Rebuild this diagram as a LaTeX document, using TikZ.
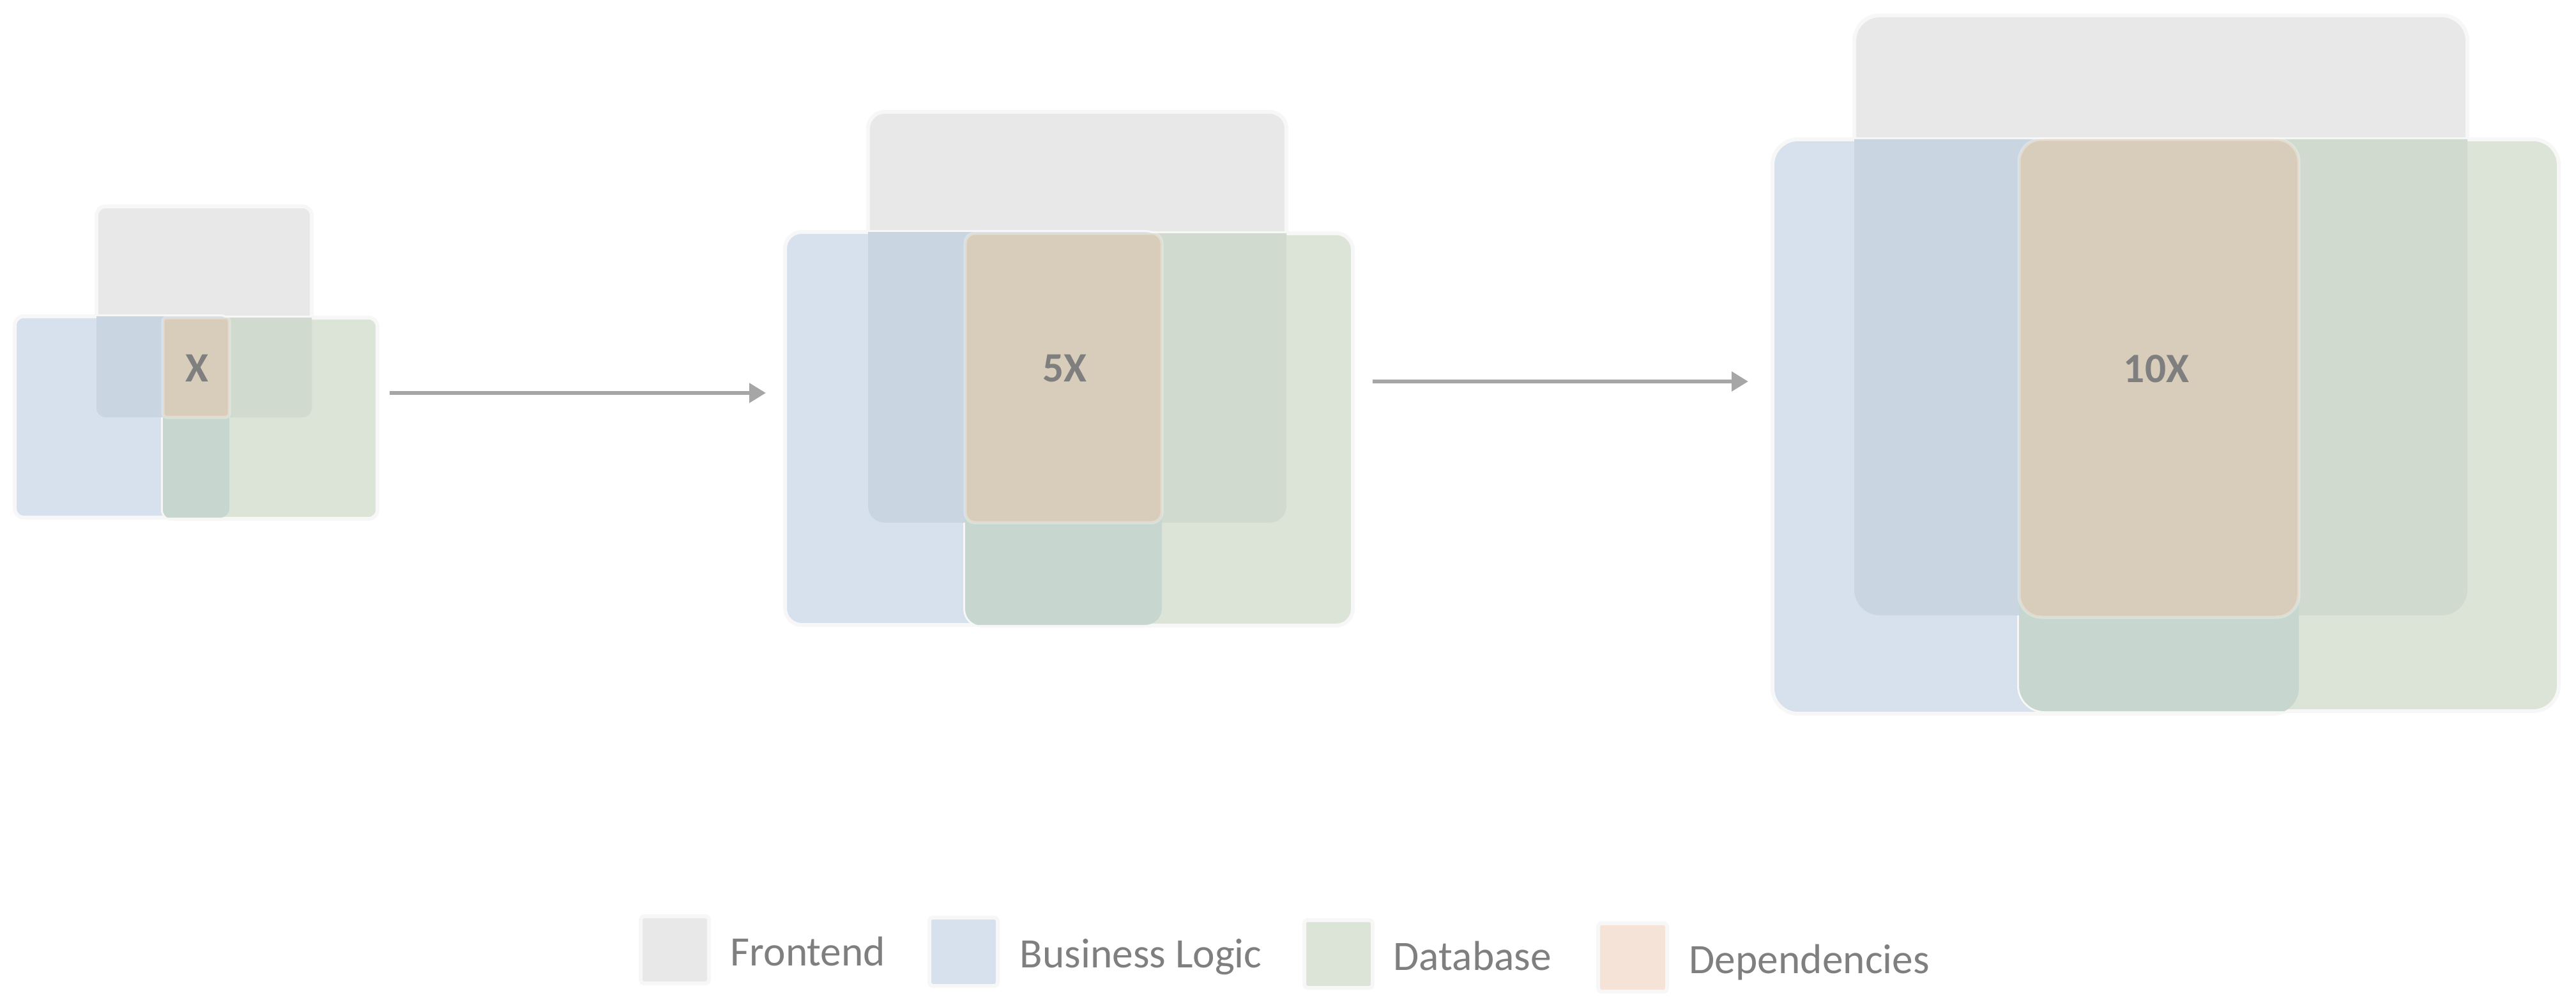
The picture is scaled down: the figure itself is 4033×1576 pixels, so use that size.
\documentclass[tikz,border=0pt]{standalone}
\usepackage{fontspec}
\setmainfont{Carlito}
\usetikzlibrary{arrows.meta,positioning,fit}
\definecolor{feGray}{HTML}{E8E8E8}
\definecolor{blBlue}{HTML}{D6E1ED}
\definecolor{dbGreen}{HTML}{DCE4D8}
\definecolor{depPeach}{HTML}{F5E3D7}
\definecolor{blFe}{HTML}{C9D6E2}
\definecolor{dbFe}{HTML}{D1DACF}
\definecolor{blDb}{HTML}{C7D6CF}
\definecolor{depMix}{HTML}{D8CCBA}
\definecolor{txtGray}{HTML}{7F7F7F}
\definecolor{arrGray}{HTML}{A6A6A6}
\tikzset{
	tier/.style={inner sep=0, outer sep=0, draw=black!3, line width=0.06cm},
	fe/.style={tier, fill=feGray},
	bl/.style={tier, fill=blBlue},
	db/.style={tier, fill=dbGreen},
	dep/.style={inner sep=0, outer sep=0, fill=depMix, draw=white, draw opacity=0.3, line width=0.05cm},
	tag/.style={text=txtGray, font=\bfseries\fontsize{18.6}{22}\selectfont},
	legbox/.style={tier, rounded corners=0.05cm},
	legtext/.style={text=txtGray, inner sep=0, font=\fontsize{18.6}{22}\selectfont},
	flow/.style={draw=arrGray, line width=0.06cm, -{Triangle[length=0.26cm,width=0.3cm]}}
}

\begin{document}
\begin{tikzpicture}[x=0.01cm, y=-0.01cm]
	\useasboundingbox (0,0) rectangle (4033,1576);
	
	% X
	\node[fe, rounded corners=0.14cm, fit={(151,323) (488,653)}] (fe1) {};
	\node[bl, rounded corners=0.14cm, fit={(23,495) (359,810)}] (bl1) {};
	\node[db, rounded corners=0.14cm, fit={(255,497) (591,812)}] (db1) {};
	\begin{scope}
		\clip[rounded corners=0.14cm] (fe1.south west) rectangle (fe1.north east);
		\fill[blFe, rounded corners=0.14cm] (bl1.south west) rectangle (bl1.north east);
		\fill[dbFe, rounded corners=0.14cm] (db1.south west) rectangle (db1.north east);
	\end{scope}
	\begin{scope}
		\clip[rounded corners=0.14cm] (bl1.south west) rectangle (bl1.north east);
		\fill[blDb, rounded corners=0.14cm] (db1.south west) rectangle (db1.north east);
	\end{scope}
	\node[dep, rounded corners=0.06cm, fit={(255,497) (359,653)}] (dep1) {};
	\node[tag] (x1) at (309,576) {X};
	
	% 5X
	\node[fe, rounded corners=0.26cm, fit={(1359,175) (2014,818)}] (fe2) {};
	\node[bl, rounded corners=0.26cm, fit={(1229,363) (1819,978)}] (bl2) {};
	\node[db, rounded corners=0.26cm, fit={(1511,365) (2118,979)}] (db2) {};
	\begin{scope}
		\clip[rounded corners=0.26cm] (fe2.south west) rectangle (fe2.north east);
		\fill[blFe, rounded corners=0.26cm] (bl2.south west) rectangle (bl2.north east);
		\fill[dbFe, rounded corners=0.26cm] (db2.south west) rectangle (db2.north east);
	\end{scope}
	\begin{scope}
		\clip[rounded corners=0.26cm] (bl2.south west) rectangle (bl2.north east);
		\fill[blDb, rounded corners=0.26cm] (db2.south west) rectangle (db2.north east);
	\end{scope}
	\node[dep, rounded corners=0.16cm, fit={(1511,365) (1819,818)}] (dep2) {};
	\node[tag] (x5) at (1667,577) {5X};
	
	% 10X
	\node[fe, rounded corners=0.4cm, fit={(2903,24) (3863,963)}] (fe3) {};
	\node[bl, rounded corners=0.4cm, fit={(2775,218) (3599,1117)}] (bl3) {};
	\node[db, rounded corners=0.4cm, fit={(3161,218) (4006,1113)}] (db3) {};
	\begin{scope}
		\clip[rounded corners=0.4cm] (fe3.south west) rectangle (fe3.north east);
		\fill[blFe, rounded corners=0.4cm] (bl3.south west) rectangle (bl3.north east);
		\fill[dbFe, rounded corners=0.4cm] (db3.south west) rectangle (db3.north east);
	\end{scope}
	\begin{scope}
		\clip[rounded corners=0.4cm] (bl3.south west) rectangle (bl3.north east);
		\fill[blDb, rounded corners=0.4cm] (db3.south west) rectangle (db3.north east);
	\end{scope}
	\node[dep, rounded corners=0.35cm, fit={(3161,218) (3599,966)}] (dep3) {};
	\node[tag] (x10) at (3376,577) {10X};
	
	% arrows
	\coordinate (a1s) at (610,615);
	\coordinate (a1e) at (1199,615);
	\coordinate (a2s) at (2149,597);
	\coordinate (a2e) at (2737,597);
	\draw[flow] (a1s) -- (a1e);
	\draw[flow] (a2s) -- (a2e);
	
	% legend
	\node[legbox, fill=feGray, fit={(1003,1434) (1110,1539)}] (lgFe) {};
	\node[legbox, fill=blBlue, fit={(1455,1436) (1562,1543)}] (lgBl) {};
	\node[legbox, fill=dbGreen, fit={(2042,1440) (2149,1546)}] (lgDb) {};
	\node[legbox, fill=depPeach, fit={(2502,1445) (2610,1552)}] (lgDep) {};
	\node[legtext, right=0.33cm of lgFe, anchor=base west, yshift=-0.25cm] (tFe) {Frontend};
	\node[legtext, right=0.34cm of lgBl, anchor=base west, yshift=-0.25cm] (tBl) {Business Logic};
	\node[legtext, right=0.32cm of lgDb, anchor=base west, yshift=-0.25cm] (tDb) {Database};
	\node[legtext, right=0.34cm of lgDep, anchor=base west, yshift=-0.25cm] (tDep) {Dependencies};
\end{tikzpicture}
\end{document}
